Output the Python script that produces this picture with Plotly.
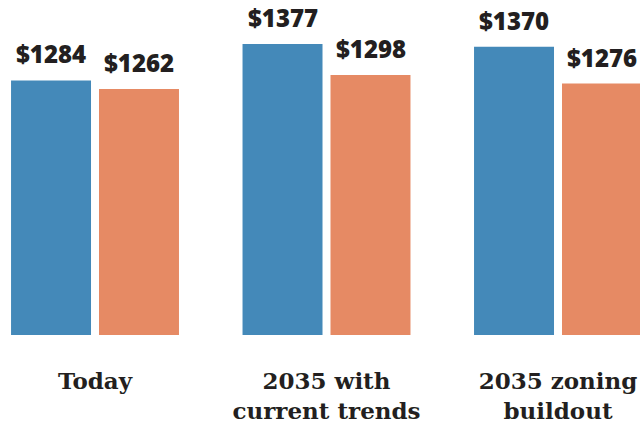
import plotly.graph_objects as go

categories = ["Today", "2035 with<br>current trends", "2035 zoning<br>buildout"]
series_a = [1284, 1377, 1370]
series_b = [1262, 1298, 1276]
series_names = ["Series A", "Series B"]
colors = ["#4489B9", "#E68A64"]

fig = go.Figure()
for name, vals, col in zip(series_names, [series_a, series_b], colors):
    fig.add_trace(go.Bar(x=categories, y=vals, name=name, marker_color=col,
                         marker_line_width=0, hoverinfo="skip"))

annotations = []
for i, cat in enumerate(categories):
    for vals, shift in ((series_a, -44), (series_b, 44)):
        annotations.append(dict(x=cat, y=vals[i], xref="x", yref="y",
                                text=f"${vals[i]}", showarrow=False,
                                xshift=shift, yanchor="bottom", yshift=8,
                                font=dict(family="Open Sans", size=24, color="#231F20", weight=800)))

fig.update_layout(
    width=640, height=427,
    margin=dict(l=0, r=0, t=0, b=92),
    paper_bgcolor="white", plot_bgcolor="white",
    barmode="group", bargap=0.24, bargroupgap=0.0909,
    showlegend=False,
    annotations=annotations,
    xaxis=dict(range=[-0.4104, 2.3542], showgrid=False, zeroline=False, showline=False,
               ticks="", ticklabelstandoff=30, fixedrange=True,
               tickfont=dict(family="DejaVu Serif", size=23, color="#231F20", weight=700)),
    yaxis=dict(range=[635, 1489], visible=False, showgrid=False, zeroline=False, fixedrange=True),
)
fig.write_html("out.html", config={"displayModeBar": False},
               post_script="document.body.style.margin='0';document.body.style.overflow='hidden';")
